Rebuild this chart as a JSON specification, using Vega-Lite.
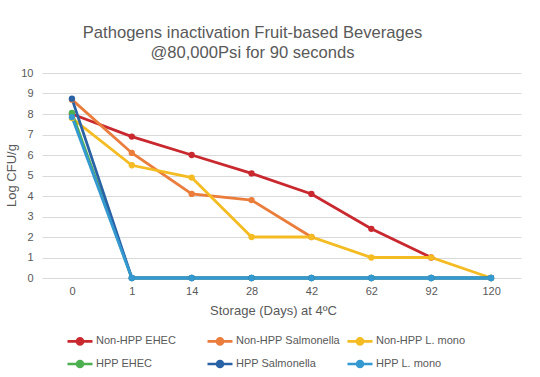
{
  "$schema": "https://vega.github.io/schema/vega-lite/v6.json",
  "autosize": "none",
  "width": 479,
  "height": 205,
  "padding": {"left": 42, "top": 73, "right": 19, "bottom": 99},
  "background": "white",
  "config": {
    "font": "Liberation Sans",
    "view": {"stroke": null},
    "axis": {"labelColor": "#595959", "titleColor": "#595959", "labelFont": "Liberation Sans", "titleFont": "Liberation Sans"}
  },
  "title": {
    "text": ["Pathogens inactivation Fruit-based Beverages", "@80,000Psi for 90 seconds"],
    "fontSize": 16.6,
    "fontWeight": "normal",
    "color": "#595959",
    "anchor": "middle",
    "dx": -29,
    "lineHeight": 20,
    "offset": 5
  },
  "data": {
    "values": [
      {"day": "0", "series": "Non-HPP EHEC", "cfu": 8.0},
      {"day": "1", "series": "Non-HPP EHEC", "cfu": 6.9},
      {"day": "14", "series": "Non-HPP EHEC", "cfu": 6.0},
      {"day": "28", "series": "Non-HPP EHEC", "cfu": 5.1},
      {"day": "42", "series": "Non-HPP EHEC", "cfu": 4.1},
      {"day": "62", "series": "Non-HPP EHEC", "cfu": 2.4},
      {"day": "92", "series": "Non-HPP EHEC", "cfu": 1.0},
      {"day": "0", "series": "Non-HPP Salmonella", "cfu": 8.7},
      {"day": "1", "series": "Non-HPP Salmonella", "cfu": 6.1},
      {"day": "14", "series": "Non-HPP Salmonella", "cfu": 4.1},
      {"day": "28", "series": "Non-HPP Salmonella", "cfu": 3.8},
      {"day": "42", "series": "Non-HPP Salmonella", "cfu": 2.0},
      {"day": "0", "series": "Non-HPP L. mono", "cfu": 7.8},
      {"day": "1", "series": "Non-HPP L. mono", "cfu": 5.5},
      {"day": "14", "series": "Non-HPP L. mono", "cfu": 4.9},
      {"day": "28", "series": "Non-HPP L. mono", "cfu": 2.0},
      {"day": "42", "series": "Non-HPP L. mono", "cfu": 2.0},
      {"day": "62", "series": "Non-HPP L. mono", "cfu": 1.0},
      {"day": "92", "series": "Non-HPP L. mono", "cfu": 1.0},
      {"day": "120", "series": "Non-HPP L. mono", "cfu": 0.0},
      {"day": "0", "series": "HPP EHEC", "cfu": 8.05},
      {"day": "1", "series": "HPP EHEC", "cfu": 0},
      {"day": "14", "series": "HPP EHEC", "cfu": 0},
      {"day": "28", "series": "HPP EHEC", "cfu": 0},
      {"day": "42", "series": "HPP EHEC", "cfu": 0},
      {"day": "62", "series": "HPP EHEC", "cfu": 0},
      {"day": "92", "series": "HPP EHEC", "cfu": 0},
      {"day": "120", "series": "HPP EHEC", "cfu": 0},
      {"day": "0", "series": "HPP Salmonella", "cfu": 8.75},
      {"day": "1", "series": "HPP Salmonella", "cfu": 0},
      {"day": "14", "series": "HPP Salmonella", "cfu": 0},
      {"day": "28", "series": "HPP Salmonella", "cfu": 0},
      {"day": "42", "series": "HPP Salmonella", "cfu": 0},
      {"day": "62", "series": "HPP Salmonella", "cfu": 0},
      {"day": "92", "series": "HPP Salmonella", "cfu": 0},
      {"day": "120", "series": "HPP Salmonella", "cfu": 0},
      {"day": "0", "series": "HPP L. mono", "cfu": 7.85},
      {"day": "1", "series": "HPP L. mono", "cfu": 0},
      {"day": "14", "series": "HPP L. mono", "cfu": 0},
      {"day": "28", "series": "HPP L. mono", "cfu": 0},
      {"day": "42", "series": "HPP L. mono", "cfu": 0},
      {"day": "62", "series": "HPP L. mono", "cfu": 0},
      {"day": "92", "series": "HPP L. mono", "cfu": 0},
      {"day": "120", "series": "HPP L. mono", "cfu": 0}
    ]
  },
  "mark": {"type": "line", "strokeWidth": 2.8, "point": {"size": 40, "filled": true, "opacity": 1}},
  "encoding": {
    "x": {
      "field": "day",
      "type": "ordinal",
      "sort": ["0", "1", "14", "28", "42", "62", "92", "120"],
      "scale": {"type": "point", "padding": 0.5},
      "axis": {
        "title": "Storage (Days) at 4ºC",
        "titleFontSize": 13,
        "titleFontWeight": "normal",
        "titlePadding": 8,
        "titleX": 231,
        "labelFontSize": 11,
        "labelAngle": 0,
        "labelPadding": 7,
        "ticks": false,
        "domain": false,
        "grid": false
      }
    },
    "y": {
      "field": "cfu",
      "type": "quantitative",
      "scale": {"domain": [0, 10], "nice": false},
      "axis": {
        "title": "Log CFU/g",
        "titleFontSize": 13,
        "titleFontWeight": "normal",
        "titleX": -24,
        "titleY": 102,
        "values": [0, 1, 2, 3, 4, 5, 6, 7, 8, 9, 10],
        "labelFontSize": 11,
        "labelPadding": 9,
        "ticks": false,
        "domain": false,
        "grid": true,
        "gridColor": "#d9d9d9",
        "gridWidth": 1
      }
    },
    "color": {
      "field": "series",
      "type": "nominal",
      "sort": ["Non-HPP EHEC", "Non-HPP Salmonella", "Non-HPP L. mono", "HPP EHEC", "HPP Salmonella", "HPP L. mono"],
      "scale": {
        "domain": ["Non-HPP EHEC", "Non-HPP Salmonella", "Non-HPP L. mono", "HPP EHEC", "HPP Salmonella", "HPP L. mono"],
        "range": ["#C8282E", "#EA7D3C", "#F4BC22", "#4CAF50", "#2A62A6", "#3599D1"]
      },
      "legend": {
        "title": null,
        "orient": "none",
        "legendX": 24,
        "legendY": 254,
        "direction": "horizontal",
        "columns": 3,
        "gridAlign": "all",
        "columnPadding": 2,
        "rowPadding": -8,
        "symbolType": "M-1,0L1,0M-0.24,0A0.24,0.24,0,1,1,0.24,0A0.24,0.24,0,1,1,-0.24,0Z",
        "symbolSize": 625,
        "symbolStrokeWidth": 2.6,
        "labelOffset": 2,
        "labelFontSize": 11,
        "labelColor": "#595959",
        "labelFont": "Liberation Sans",
        "encode": {
          "symbols": {
            "update": {
              "fill": {"scale": "color", "field": "value"},
              "stroke": {"scale": "color", "field": "value"},
              "opacity": {"value": 1}
            }
          }
        }
      }
    }
  }
}
